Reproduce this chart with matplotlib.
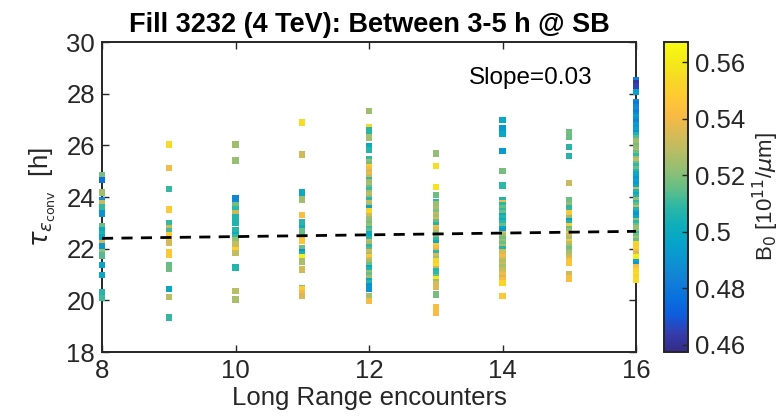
import numpy as np
import matplotlib
matplotlib.use("Agg")
import matplotlib.pyplot as plt
from matplotlib.colors import LinearSegmentedColormap

# ---------------- data ----------------
encounters = [8, 9, 10, 11, 12, 13, 14, 15, 16]

tau_08 = [24.84, 24.67, 24.17, 23.87, 23.77, 23.59, 23.36, 22.89, 22.71, 22.58, 22.45,
          22.23, 22.09, 21.87, 21.74, 21.36, 20.97, 20.30, 20.09]
b0_08 = [0.518, 0.478, 0.524, 0.487, 0.530, 0.510, 0.490, 0.516, 0.500, 0.506, 0.498,
         0.533, 0.492, 0.522, 0.514, 0.497, 0.499, 0.508, 0.511]

tau_09 = [26.03, 25.12, 24.32, 23.52, 22.99, 22.81, 22.67, 22.52, 22.43, 22.23, 21.87,
          21.78, 21.36, 21.23, 20.44, 20.14, 19.34]
b0_09 = [0.555, 0.541, 0.510, 0.548, 0.510, 0.532, 0.512, 0.549, 0.546, 0.534, 0.548,
         0.547, 0.515, 0.517, 0.499, 0.529, 0.510]

tau_10 = [26.03, 25.41, 23.94, 23.68, 23.52, 23.36, 23.22, 23.01, 22.71, 22.52, 22.43,
          22.32, 22.17, 21.96, 21.83, 21.27, 20.36, 20.03]
b0_10 = [0.524, 0.523, 0.485, 0.517, 0.509, 0.532, 0.507, 0.506, 0.508, 0.501, 0.510,
         0.522, 0.531, 0.549, 0.530, 0.507, 0.529, 0.526]

tau_11 = [26.88, 25.64, 24.17, 23.90, 23.30, 23.01, 22.81, 22.67, 22.32, 22.01, 21.87,
          21.77, 21.68, 21.50, 21.19, 20.49, 20.44, 20.26, 20.18]
b0_11 = [0.556, 0.533, 0.500, 0.524, 0.543, 0.508, 0.502, 0.516, 0.546, 0.517, 0.490,
         0.505, 0.562, 0.526, 0.533, 0.519, 0.548, 0.541, 0.535]

tau_12 = [27.33, 26.69, 26.57, 26.31, 25.96, 25.81,
          25.46, 25.36, 25.26, 25.16, 25.06, 24.96, 24.86, 24.76, 24.66, 24.56,
          24.46, 24.36, 24.26, 24.16, 24.06, 23.96, 23.86, 23.76, 23.66, 23.56,
          23.46, 23.36, 23.26, 23.16, 23.06, 22.96, 22.86, 22.76, 22.66, 22.56,
          22.46, 22.36, 22.26, 22.16, 22.06, 21.96, 21.86, 21.76, 21.66, 21.56,
          21.46, 21.36, 21.26, 21.16, 21.06, 20.96, 20.86, 20.76, 20.66, 20.56,
          20.46, 20.15, 19.97]
b0_12 = [0.524, 0.554, 0.508, 0.525, 0.500, 0.508,
         0.510, 0.523, 0.518, 0.548, 0.543, 0.535, 0.540, 0.532, 0.510, 0.524,
         0.526, 0.516, 0.511, 0.525, 0.530, 0.522, 0.509, 0.531, 0.527, 0.498,
         0.549, 0.553, 0.533, 0.524, 0.521, 0.518, 0.523, 0.510, 0.515, 0.500,
         0.499, 0.507, 0.532, 0.525, 0.509, 0.514, 0.534, 0.526, 0.547, 0.533,
         0.524, 0.517, 0.497, 0.506, 0.523, 0.516, 0.525, 0.499, 0.508, 0.488,
         0.490, 0.525, 0.542]

tau_13 = [25.68, 25.19, 24.39, 24.08,
          23.81, 23.71, 23.61, 23.51, 23.41, 23.31, 23.21, 23.11, 23.01, 22.91,
          22.81, 22.71, 22.61, 22.51, 22.41, 22.31, 22.21, 22.11, 22.01, 21.91,
          21.81, 21.71, 21.61, 21.51, 21.41, 21.31, 21.21, 21.11, 21.01, 20.91,
          20.81, 20.71, 20.61, 20.51, 20.22, 19.72, 19.51]
b0_13 = [0.522, 0.556, 0.557, 0.517,
         0.509, 0.524, 0.523, 0.526, 0.519, 0.531, 0.525, 0.534, 0.516, 0.508,
         0.543, 0.535, 0.524, 0.518, 0.523, 0.510, 0.500, 0.548, 0.542, 0.533,
         0.509, 0.534, 0.525, 0.554, 0.551, 0.555, 0.532, 0.508, 0.510, 0.516,
         0.560, 0.524, 0.533, 0.535, 0.518, 0.543, 0.542]

tau_14 = [26.97, 26.67, 26.44, 25.77, 25.01, 24.44,
          23.87, 23.77, 23.67, 23.57, 23.47, 23.37, 23.27, 23.17, 23.07, 22.97,
          22.87, 22.77, 22.67, 22.57, 22.47, 22.37, 22.27, 22.17, 22.07, 21.97,
          21.87, 21.77, 21.67, 21.57, 21.47, 21.37, 21.27, 21.17, 21.07, 20.97,
          20.87, 20.78, 20.67, 20.17]
b0_14 = [0.500, 0.492, 0.499, 0.493, 0.518, 0.509,
         0.507, 0.540, 0.509, 0.516, 0.510, 0.517, 0.500, 0.508, 0.501, 0.509,
         0.516, 0.498, 0.492, 0.532, 0.524, 0.518, 0.522, 0.517, 0.526, 0.507,
         0.533, 0.535, 0.540, 0.534, 0.527, 0.532, 0.525, 0.531, 0.534, 0.539,
         0.533, 0.541, 0.553, 0.547]

tau_15 = [26.52, 26.42, 26.33, 25.94, 25.60, 24.54,
          23.87, 23.77, 23.67, 23.57, 23.47, 23.37, 23.27, 23.17, 23.07, 22.97,
          22.87, 22.77, 22.67, 22.57, 22.47, 22.37, 22.27, 22.17, 22.07, 21.97,
          21.87, 21.77, 21.67, 21.57, 21.47, 21.03, 20.84]
b0_15 = [0.517, 0.518, 0.516, 0.508, 0.507, 0.532,
         0.516, 0.518, 0.522, 0.509, 0.510, 0.547, 0.546, 0.524, 0.495, 0.507,
         0.549, 0.516, 0.523, 0.542, 0.533, 0.525, 0.546, 0.530, 0.524, 0.517,
         0.523, 0.526, 0.532, 0.540, 0.546, 0.533, 0.543]

tau_16 = [28.52, 28.40, 28.30, 28.07,
          27.68, 27.58, 27.48, 27.38, 27.28, 27.18, 27.08, 26.98, 26.88, 26.78,
          26.68, 26.58, 26.48, 26.38, 26.28, 26.18, 26.08, 25.98, 25.88, 25.78,
          25.68, 25.58, 25.48, 25.38, 25.28, 25.18, 25.08, 24.98, 24.88, 24.78,
          24.68, 24.58, 24.48, 24.38, 24.28, 24.18, 24.08, 23.98, 23.88, 23.78,
          23.68, 23.58, 23.48, 23.38, 23.28, 23.18, 23.08, 22.98, 22.88, 22.78,
          22.68, 22.58, 22.48, 22.38, 22.28, 22.18, 22.08, 21.98, 21.88, 21.78,
          21.68, 21.58, 21.48, 21.38, 21.28, 21.18, 21.08, 20.98, 20.88, 20.78]
b0_16 = [0.482, 0.462, 0.465, 0.495,
         0.487, 0.480, 0.485, 0.488, 0.482, 0.486, 0.494, 0.488, 0.484, 0.495,
         0.490, 0.496, 0.489, 0.505, 0.514, 0.522, 0.524, 0.518, 0.521, 0.525,
         0.517, 0.510, 0.522, 0.531, 0.516, 0.509, 0.516, 0.508, 0.500, 0.497,
         0.491, 0.498, 0.493, 0.499, 0.532, 0.507, 0.500, 0.506, 0.522, 0.509,
         0.515, 0.531, 0.508, 0.498, 0.490, 0.497, 0.523, 0.509, 0.516, 0.524,
         0.522, 0.510, 0.517, 0.525, 0.515, 0.553, 0.549, 0.551, 0.543, 0.534,
         0.563, 0.561, 0.498, 0.491, 0.542, 0.548, 0.554, 0.556, 0.552, 0.555]

fit_slope = 0.034
fit_intercept = 22.128
slope_label = "Slope=0.03"
b0_limits = (0.4575, 0.5672)

# ---------------- parula colormap ----------------
parula_pts = [
    (0.2081, 0.1663, 0.5292), (0.2081, 0.2386, 0.6771), (0.0591, 0.3598, 0.8683),
    (0.0329, 0.4430, 0.8720), (0.0779, 0.5040, 0.8384), (0.0488, 0.5772, 0.8228),
    (0.0231, 0.6418, 0.7913), (0.0590, 0.6838, 0.7254), (0.1801, 0.7177, 0.6424),
    (0.3953, 0.7459, 0.5244), (0.5709, 0.7485, 0.4494), (0.7184, 0.7411, 0.3905),
    (0.8507, 0.7299, 0.3360), (0.9739, 0.7314, 0.2666), (0.9955, 0.7861, 0.1967),
    (0.9697, 0.8481, 0.1475), (0.9598, 0.9218, 0.0948), (0.9763, 0.9831, 0.0538)]
parula = LinearSegmentedColormap.from_list("parula", parula_pts, N=256)

# ---------------- figure ----------------
plt.rcParams['font.family'] = ['Liberation Sans', 'DejaVu Sans']
txt = (0.15, 0.15, 0.15)
fs = 18.5

fig = plt.figure(figsize=(7.8, 4.16), dpi=100)
ax = fig.add_axes([0.1308, 0.1538, 0.6846, 0.7452])

cols = [(8, tau_08, b0_08), (9, tau_09, b0_09), (10, tau_10, b0_10),
        (11, tau_11, b0_11), (12, tau_12, b0_12), (13, tau_13, b0_13),
        (14, tau_14, b0_14), (15, tau_15, b0_15), (16, tau_16, b0_16)]
xs, ys, cs = [], [], []
for xv, t, b in cols:
    xs += [xv] * len(t)
    ys += t
    cs += b

sc = ax.scatter(xs, ys, c=cs, cmap=parula, vmin=b0_limits[0], vmax=b0_limits[1],
                marker='s', s=21, linewidths=0, zorder=3, clip_on=False)

xl = np.array([encounters[0], encounters[-1]])
ax.plot(xl, fit_intercept + fit_slope * xl, color='black', lw=2,
        ls=(0, (4, 3)), zorder=4, clip_on=False)

ax.set_xlim(8, 16)
ax.set_ylim(18, 30)
ax.set_xticks([8, 10, 12, 14, 16])
ax.set_yticks([18, 20, 22, 24, 26, 28, 30])
ax.tick_params(direction='in', length=5, width=1, colors=txt, labelsize=fs,
               top=True, right=True, pad=5)
for sp in ax.spines.values():
    sp.set_color(txt)
    sp.set_linewidth(1.4)

ax.set_xlabel("Long Range encounters", fontsize=fs, color=txt, labelpad=2)
ax.set_ylabel(r"$\tau_{\epsilon_{\rm conv}}$  [h]", fontsize=fs, color=txt, labelpad=6)
ax.set_title("Fill 3232 (4 TeV): Between 3-5 h @ SB", fontsize=19.5, fontweight='bold',
             color='black', pad=7)
ax.text(13.5, 28.6, slope_label, fontsize=17.5, color='black', va='center', ha='left')

cax = fig.add_axes([0.851, 0.1538, 0.031, 0.7452])
cb = fig.colorbar(sc, cax=cax)
cb.set_ticks([0.46, 0.48, 0.50, 0.52, 0.54, 0.56])
cb.set_ticklabels(['0.46', '0.48', '0.5', '0.52', '0.54', '0.56'])
cb.ax.tick_params(direction='in', length=4, width=1, colors=txt, labelsize=fs, pad=5)
cb.outline.set_edgecolor(txt)
cb.outline.set_linewidth(1.4)
cb.set_label(r"B$_0$ [10$^{11}$/$\mu$m]", fontsize=16, color=txt, labelpad=4)

fig.savefig("out.png", dpi=100)
